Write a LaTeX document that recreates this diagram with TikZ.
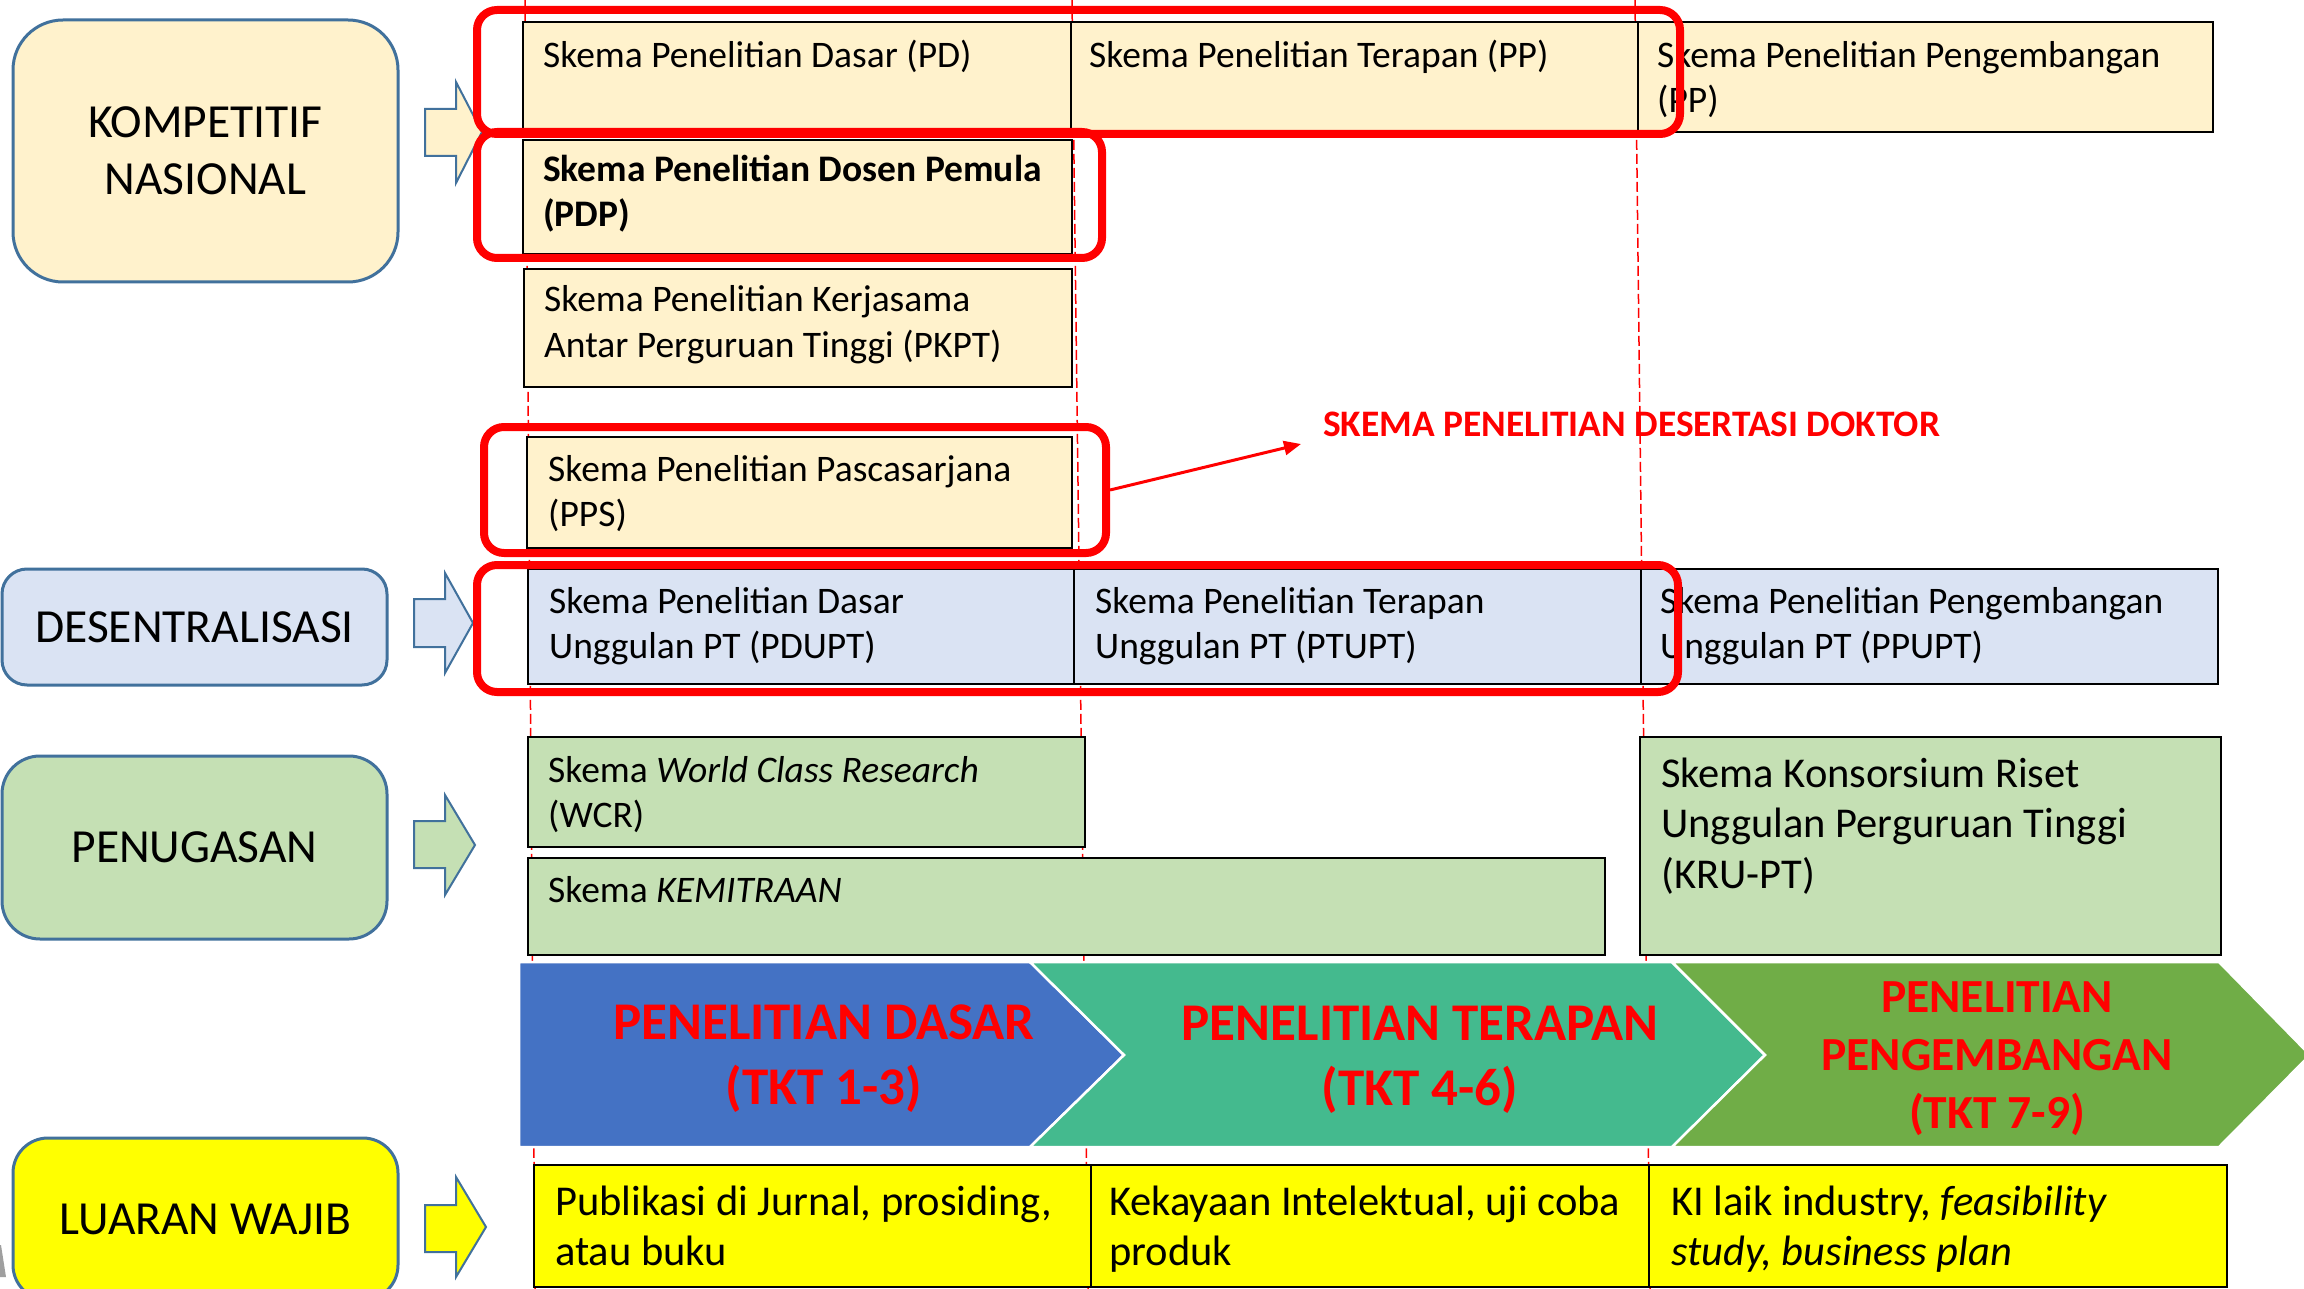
\documentclass[tikz,border=0pt]{standalone}
\usepackage{fontspec}
\setmainfont{Carlito}
\usetikzlibrary{arrows.meta,fit}
\definecolor{kfill}{HTML}{FFF2CC}
\definecolor{dfill}{HTML}{DAE3F3}
\definecolor{pfill}{HTML}{C5E0B4}
\definecolor{lfill}{HTML}{FFFF00}
\definecolor{catline}{HTML}{41719C}
\definecolor{chblue}{HTML}{4472C4}
\definecolor{chteal}{HTML}{44BA8E}
\definecolor{chgreen}{HTML}{70AD47}
\definecolor{hired}{HTML}{FF0000}
\newcommand\lrows[1]{\begin{tabular}[t]{@{}l@{}}#1\end{tabular}}
\newcommand\crows[1]{\begin{tabular}[t]{@{}c@{}}#1\end{tabular}}
\begin{document}
\begin{tikzpicture}[x=1pt,y=-1pt,
  catbox/.style={draw=catline, line width=3pt, inner sep=0pt},
  cattxt/.style={inner sep=0pt, align=center, font=\fontsize{47.5pt}{57pt}\selectfont},
  catarrow/.style={draw=catline, line width=2pt},
  sbox/.style={draw=black, line width=2.7pt, inner sep=0pt},
  stxt/.style={anchor=base west, inner sep=0pt, font=\fontsize{37.5pt}{45pt}\selectfont},
  btxt/.style={anchor=base west, inner sep=0pt, font=\fontsize{42.5pt}{50pt}\selectfont},
  redbox/.style={draw=hired, line width=8pt, rounded corners=20pt, inner sep=0pt},
  dashln/.style={draw=hired, line width=1.5pt, dash pattern=on 10pt off 4pt},
  chev/.style={draw=white, line width=2.5pt, line join=miter},
  chtxt/.style={anchor=base, inner sep=0pt, text=hired, font=\bfseries\fontsize{53pt}{65pt}\selectfont}
]
\clip (0,0) rectangle (2304,1289);
\fill[white] (0,0) rectangle (2304,1289);

% guide lines
\draw[dashln] (525,0) -- (535,1289);
\draw[dashln] (1072,0) -- (1088,1289);
\draw[dashln] (1635,0) -- (1650,1289);

% category boxes
\node[catbox, rounded corners=50pt, fill=kfill, fit={(13,20) (398,282)}] (komp) {};
\node[cattxt] (kompt) at (komp.center) {KOMPETITIF\\NASIONAL};
\node[catbox, rounded corners=25pt, fill=dfill, fit={(2,569) (387,685)}] (des) {};
\node[cattxt] (dest) at (des.center) {DESENTRALISASI};
\node[catbox, rounded corners=38pt, fill=pfill, fit={(2,756) (387,939)}] (pen) {};
\node[cattxt] (pent) at (pen.center) {PENUGASAN};
\node[catbox, rounded corners=35pt, fill=lfill, fit={(13,1138) (398,1300)}] (luar) {};
\node[cattxt] (luart) at (luar.center) {LUARAN WAJIB};

% block arrows
\draw[catarrow, fill=kfill] (425,109) -- (456,109) -- (456,82) -- (482,132) -- (456,183) -- (456,156) -- (425,156) -- cycle;
\draw[catarrow, fill=dfill] (414,599) -- (445,599) -- (445,573) -- (473,623) -- (445,673) -- (445,647) -- (414,647) -- cycle;
\draw[catarrow, fill=pfill] (414,821) -- (445,821) -- (445,795) -- (475,845) -- (445,895) -- (445,868) -- (414,868) -- cycle;
\draw[catarrow, fill=lfill] (425,1205) -- (456,1205) -- (456,1177) -- (486,1227) -- (456,1277) -- (456,1252) -- (425,1252) -- cycle;

% KOMPETITIF NASIONAL schemes
\node[sbox, fill=kfill, fit={(523,22) (1071,131)}] (pd) {};
\node[stxt] (pdt) at (543,68) {Skema Penelitian Dasar (PD)};
\node[sbox, fill=kfill, fit={(1071,22) (1638,131)}] (pp) {};
\node[stxt] (ppt) at (1089,68) {Skema Penelitian Terapan (PP)};
\node[sbox, fill=kfill, fit={(1638,22) (2213,132)}] (ppg) {};
\node[stxt] (ppgt) at (1657,68) {\lrows{Skema Penelitian Pengembangan\\(PP)}};
\node[sbox, fill=kfill, fit={(523,140) (1072,254)}] (pdp) {};
\node[stxt] (pdpt) at (543,182) {\bfseries\lrows{Skema Penelitian Dosen Pemula\\(PDP)}};
\node[sbox, fill=kfill, fit={(524,269) (1072,387)}] (pkpt) {};
\node[stxt] (pkptt) at (544,312) {\lrows{Skema Penelitian Kerjasama\\Antar Perguruan Tinggi (PKPT)}};
\node[sbox, fill=kfill, fit={(527,437) (1072,548)}] (pps) {};
\node[stxt] (ppst) at (548,481) {\lrows{Skema Penelitian Pascasarjana\\(PPS)}};

% DESENTRALISASI schemes
\node[sbox, fill=dfill, fit={(528,569) (1074,684)}] (pdupt) {};
\node[stxt] (pduptt) at (549,613) {\lrows{Skema Penelitian Dasar\\Unggulan PT (PDUPT)}};
\node[sbox, fill=dfill, fit={(1074,569) (1641,684)}] (ptupt) {};
\node[stxt] (ptuptt) at (1095,613) {\lrows{Skema Penelitian Terapan\\Unggulan PT (PTUPT)}};
\node[sbox, fill=dfill, fit={(1641,569) (2218,684)}] (ppupt) {};
\node[stxt] (ppuptt) at (1660,613) {\lrows{Skema Penelitian Pengembangan\\Unggulan PT (PPUPT)}};

% PENUGASAN schemes
\node[sbox, fill=pfill, fit={(528,737) (1085,847)}] (wcr) {};
\node[stxt] (wcrt) at (548,782) {\lrows{Skema \textit{World Class Research}\\(WCR)}};
\node[sbox, fill=pfill, fit={(528,858) (1605,955)}] (kemi) {};
\node[stxt] (kemit) at (548,902) {Skema \textit{KEMITRAAN}};
\node[sbox, fill=pfill, fit={(1640,737) (2221,955)}] (kru) {};
\node[btxt, font=\fontsize{42.5pt}{50.5pt}\selectfont] (krut) at (1661,787) {\lrows{Skema Konsorsium Riset\\Unggulan Perguruan Tinggi\\(KRU-PT)}};

% chevrons
\draw[chev, fill=chblue] (519,962) -- (1030,962) -- (1124,1055) -- (1030,1147) -- (519,1147) -- cycle;
\draw[chev, fill=chteal] (1030,962) -- (1672,962) -- (1765,1055) -- (1672,1147) -- (1030,1147) -- (1124,1055) -- cycle;
\draw[chev, fill=chgreen] (1672,962) -- (2219,962) -- (2310,1055) -- (2219,1147) -- (1672,1147) -- (1765,1055) -- cycle;
\node[chtxt] (c1t) at (824,1039) {\crows{PENELITIAN DASAR\\(TKT 1-3)}};
\node[chtxt] (c2t) at (1420,1040) {\crows{PENELITIAN TERAPAN\\(TKT 4-6)}};
\node[chtxt, font=\bfseries\fontsize{47.5pt}{58pt}\selectfont] (c3t) at (1997,1012) {\crows{PENELITIAN\\PENGEMBANGAN\\(TKT 7-9)}};

% LUARAN WAJIB
\node[sbox, fill=lfill, fit={(534,1165) (1091,1287)}] (y1) {};
\node[btxt] (y1t) at (555,1215) {\lrows{Publikasi di Jurnal, prosiding,\\atau buku}};
\node[sbox, fill=lfill, fit={(1091,1165) (1649,1287)}] (y2) {};
\node[btxt] (y2t) at (1109,1215) {\lrows{Kekayaan Intelektual, uji coba\\produk}};
\node[sbox, fill=lfill, fit={(1649,1165) (2227,1287)}] (y3) {};
\node[btxt] (y3t) at (1671,1215) {\lrows{KI laik industry, \textit{feasibility}\\\textit{study, business plan}}};

% red highlights
\node[redbox, fit={(477,10) (1680,134)}] (rtop) {};
\node[redbox, fit={(477,132) (1102,258)}] (rpdp) {};
\node[redbox, fit={(484,427) (1106,553)}] (rpps) {};
\node[redbox, fit={(477,565) (1678,692)}] (rdes) {};

\node[anchor=base west, inner sep=0pt, text=hired, font=\bfseries\fontsize{37.4pt}{45pt}\selectfont] (dok) at (1323,436) {SKEMA PENELITIAN DESERTASI DOKTOR};
\coordinate (dtip) at (1301,444);
\draw[hired, line width=3pt, -{Triangle[length=17pt,width=14pt]}] (rpps.east) -- (dtip);

% fragment at lower left edge
\fill[gray!75] (0,1245) -- (1,1245) -- (6,1277) -- (0,1277) -- cycle;
\end{tikzpicture}
\end{document}
